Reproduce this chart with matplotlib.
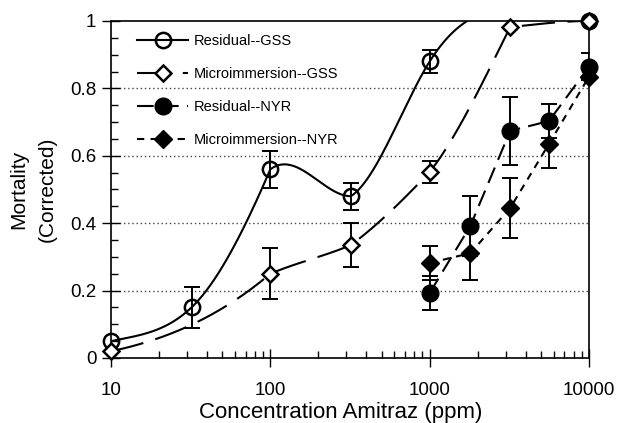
import numpy as np
import matplotlib
matplotlib.use("Agg")
import matplotlib.pyplot as plt
from matplotlib.lines import Line2D
from matplotlib.ticker import FixedLocator, NullFormatter, LogLocator

plt.rcParams['font.family'] = ['Liberation Sans', 'DejaVu Sans']

# Residual -- GSS
res_gss_x = [10, 32, 100, 320, 1000, 10000]
res_gss_y = [0.05, 0.15, 0.56, 0.48, 0.88, 1.0]
res_gss_err = [0.0, 0.06, 0.055, 0.04, 0.035, 0.0]

# Microimmersion -- GSS
mic_gss_x = [10, 100, 320, 1000, 3200, 10000]
mic_gss_y = [0.02, 0.25, 0.335, 0.552, 0.982, 1.0]
mic_gss_err = [0.0, 0.075, 0.065, 0.033, 0.0, 0.0]

# Residual -- NYR
res_nyr_x = [1000, 1800, 3200, 5600, 10000]
res_nyr_y = [0.193, 0.392, 0.674, 0.703, 0.864]
res_nyr_err = [0.05, 0.09, 0.10, 0.05, 0.04]

# Microimmersion -- NYR
mic_nyr_x = [1000, 1800, 3200, 5600, 10000]
mic_nyr_y = [0.282, 0.311, 0.445, 0.635, 0.835]
mic_nyr_err = [0.05, 0.08, 0.088, 0.07, 0.0]

x_ticks = [10, 100, 1000, 10000]
x_tick_labels = ["10", "100", "1000", "10000"]
y_ticks = [0, 0.2, 0.4, 0.6, 0.8, 1.0]
y_tick_labels = ["0", "0.2", "0.4", "0.6", "0.8", "1"]

# curve shaping: incoming / outgoing tangents (per decade) at each point
res_gss_tan_in = [0.0, 0.45, 1.1, 0.0, 0.75, 0.0]
res_gss_tan_out = [0.1, 0.45, 0.35, 0.3, 0.75, 0.0]
mic_gss_tan_in = [0.0, 0.4, 0.2, 0.5, 0.95, 0.0]
mic_gss_tan_out = [0.1, 0.2, 0.35, 0.6, 0.05, 0.0]


def hermite_curve(xs, ys, m_in, m_out, n=60):
    """Piecewise cubic Hermite through the points, in log10(x)."""
    lx = np.log10(xs)
    px, py = [], []
    for i in range(len(lx) - 1):
        h = lx[i + 1] - lx[i]
        t = np.linspace(0, 1, n)
        h00 = 2 * t**3 - 3 * t**2 + 1
        h10 = t**3 - 2 * t**2 + t
        h01 = -2 * t**3 + 3 * t**2
        h11 = t**3 - t**2
        yy = h00 * ys[i] + h10 * h * m_out[i] + h01 * ys[i + 1] + h11 * h * m_in[i + 1]
        px.append(10 ** (lx[i] + t * h))
        py.append(yy)
    return np.concatenate(px), np.concatenate(py)


fig = plt.figure(figsize=(6.22, 4.23), dpi=100)
ax = fig.add_axes([0.1785, 0.1537, 0.7685, 0.7967])

lw = 1.5
ls_mic_gss = (0, (16, 6))
ls_res_nyr = (0, (8, 4))
ls_mic_nyr = (0, (3.5, 3))

cx, cy = hermite_curve(res_gss_x, res_gss_y, res_gss_tan_in, res_gss_tan_out)
ax.plot(cx, cy, color='black', lw=lw, zorder=3)
cx, cy = hermite_curve(mic_gss_x, mic_gss_y, mic_gss_tan_in, mic_gss_tan_out)
ax.plot(cx, cy, color='black', lw=lw, linestyle=ls_mic_gss, zorder=3)
ax.plot(res_nyr_x, res_nyr_y, color='black', lw=lw, linestyle=ls_res_nyr, zorder=3)
ax.plot(mic_nyr_x, mic_nyr_y, color='black', lw=lw, linestyle=ls_mic_nyr, zorder=3)

eb = dict(fmt='none', ecolor='black', elinewidth=1.4, capsize=6, capthick=1.4, zorder=4)
for xs, ys, es in [(res_gss_x, res_gss_y, res_gss_err), (mic_gss_x, mic_gss_y, mic_gss_err),
                   (res_nyr_x, res_nyr_y, res_nyr_err), (mic_nyr_x, mic_nyr_y, mic_nyr_err)]:
    xs_e = [x for x, e in zip(xs, es) if e > 0]
    ys_e = [y for y, e in zip(ys, es) if e > 0]
    es_e = [e for e in es if e > 0]
    ax.errorbar(xs_e, ys_e, yerr=es_e, **eb)

ax.plot(res_gss_x, res_gss_y, 'o', ms=11, mfc='none', mec='black', mew=1.8, zorder=5, clip_on=False)
ax.plot(mic_gss_x, mic_gss_y, 'D', ms=8, mfc='white', mec='black', mew=1.8, zorder=5, clip_on=False)
ax.plot(res_nyr_x, res_nyr_y, 'o', ms=12, mfc='black', mec='black', zorder=5, clip_on=False)
ax.plot(mic_nyr_x, mic_nyr_y, 'D', ms=9, mfc='black', mec='black', zorder=5, clip_on=False)

ax.set_xscale('log')
ax.set_xlim(10, 10000)
ax.set_ylim(0, 1)

ax.xaxis.set_major_locator(FixedLocator(x_ticks))
ax.set_xticklabels(x_tick_labels)
ax.xaxis.set_minor_locator(LogLocator(base=10, subs=np.arange(2, 10)))
ax.xaxis.set_minor_formatter(NullFormatter())
ax.yaxis.set_major_locator(FixedLocator(y_ticks))
ax.set_yticklabels(y_tick_labels)
ax.yaxis.set_minor_locator(FixedLocator(np.arange(0.05, 1.0, 0.05)))

ax.tick_params(axis='both', which='major', direction='inout', length=13, width=1,
               labelsize=13.5, pad=4)
ax.tick_params(axis='both', which='minor', direction='in', length=5, width=1)
ax.tick_params(axis='x', which='major', pad=11)

for s in ax.spines.values():
    s.set_linewidth(1.2)

for yv in [0.2, 0.4, 0.6, 0.8]:
    ax.axhline(yv, color='#444444', lw=1.0, linestyle=(0, (1, 2)), zorder=1)

ax.set_xlabel('Concentration Amitraz (ppm)', fontsize=16, labelpad=0)
ax.xaxis.set_label_coords(0.48, -0.13)
ax.set_ylabel('Mortality\n(Corrected)', fontsize=15, linespacing=1.6, labelpad=10)

handles = [
    Line2D([], [], color='black', lw=lw, marker='o', ms=11, mfc='none', mec='black', mew=1.8),
    Line2D([], [], color='black', lw=lw, linestyle=ls_mic_gss, marker='D', ms=8,
           mfc='white', mec='black', mew=1.8),
    Line2D([], [], color='black', lw=lw, linestyle=ls_res_nyr, marker='o', ms=12,
           mfc='black', mec='black'),
    Line2D([], [], color='black', lw=lw, linestyle=ls_mic_nyr, marker='D', ms=9,
           mfc='black', mec='black'),
]
labels = ['Residual--GSS', 'Microimmersion--GSS', 'Residual--NYR', 'Microimmersion--NYR']
ax.legend(handles, labels, loc='upper left', bbox_to_anchor=(0.055, 0.96), frameon=False,
          fontsize=10.5, handlelength=3.5, handletextpad=0.4, labelspacing=1.3,
          borderaxespad=0, borderpad=0)

fig.savefig('out.png', dpi=100)
